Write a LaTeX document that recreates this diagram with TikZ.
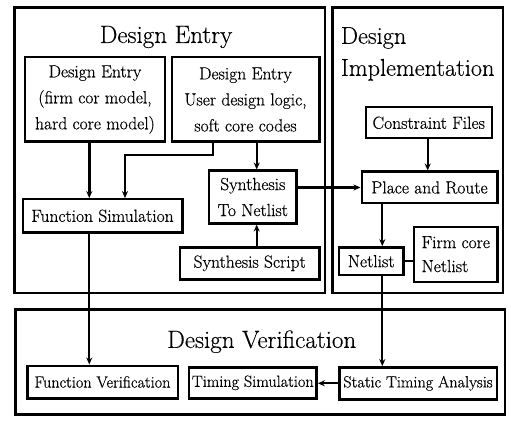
\documentclass[tikz,border=0pt]{standalone}
\usepackage{fontspec}
\newfontfamily\thk{Latin Modern Roman}[FakeBold=0.5]
\newfontfamily\thkt{Latin Modern Roman}[FakeBold=0.3]
\usetikzlibrary{arrows.meta,calc}
\begin{document}
\begin{tikzpicture}[x=1pt,y=-1pt,
  frame/.style={draw,line width=2.6pt,inner sep=0pt},
  box/.style={draw,line width=2.4pt,inner sep=0pt,align=center,font=\thk\fontsize{17.5}{26}\selectfont},
  mbox/.style={box,font=\thk\fontsize{17.5}{24}\selectfont},
  sbox/.style={box,font=\thk\fontsize{16.2}{18}\selectfont},
  title/.style={inner sep=0pt,font=\thkt\fontsize{25}{32}\selectfont},
  arr/.style={line width=2.2pt,-{Stealth[length=7pt,width=6pt]}},
  ln/.style={line width=2.2pt}]
\useasboundingbox (0,0) rectangle (511,422);
% frames
\node[frame,minimum width=310.3pt,minimum height=285.7pt] (fde) at (169.85,150.15) {};
\node[frame,minimum width=170.7pt,minimum height=285.7pt] (fdi) at (417.65,150.15) {};
\node[frame,minimum width=489.3pt,minimum height=105pt] (fdv) at (260.35,361.8) {};
% titles
\node[title] (tde) at (166,37) {Design Entry};
\node[title,align=left,anchor=north west,font=\thkt\fontsize{24.3}{32}\selectfont] (tdi) at (340.7,27) {Design\\Implementation};
\node[title] (tdv) at (261.7,341.7) {Design Verification};
% boxes
\node[box,minimum width=140pt,minimum height=84.4pt] (de1) at (95,99.5) {Design Entry\\(firm cor model,\\hard core model)};
\node[box,minimum width=147.6pt,minimum height=84.4pt] (de2) at (245.5,99.5) {Design Entry\\User design logic,\\soft core codes};
\node[box,minimum width=159.6pt,minimum height=33pt] (fs) at (102.5,215.8) {Function Simulation};
\node[box,minimum width=87.7pt,minimum height=52.6pt] (stn) at (252.8,197) {Synthesis\\To Netlist};
\node[mbox,minimum width=139.3pt,minimum height=32pt] (ss) at (249.7,263.3) {Synthesis Script};
\node[mbox,minimum width=126pt,minimum height=31pt] (cf) at (428.7,122.8) {Constraint Files};
\node[mbox,minimum width=135.6pt,minimum height=31.6pt] (pr) at (429.5,187.5) {Place and Route};
\node[mbox,minimum width=64.3pt,minimum height=27.7pt] (nl) at (371.2,261.2) {Netlist};
\node[mbox,minimum width=83.7pt,minimum height=55pt,align=left] (fcn) at (455.8,254.2) {Firm core\\Netlist};
\node[sbox,minimum width=150.4pt,minimum height=32.6pt] (fv) at (102.5,382) {Function Verification};
\node[sbox,minimum width=127.7pt,minimum height=31pt] (ts) at (252.8,382.8) {Timing Simulation};
\node[sbox,minimum width=157.4pt,minimum height=32pt] (sta) at (418,383.3) {Static Timing Analysis};
% column coordinates
\coordinate (xa) at (89.3,0);
\coordinate (xb) at (213.3,155);
\coordinate (xc) at (125,155);
\coordinate (xd) at (256.7,0);
\coordinate (xe) at (382.3,0);
\coordinate (xf) at (427.7,0);
% connectors
\draw[arr,line width=2.8pt] (de1.south -| xa) -- (fs.north -| xa);
\draw[arr] (de2.south -| xb) -- (xb) -- (xc) -- (fs.north -| xc);
\draw[arr] (de2.south -| xd) -- (stn.north -| xd);
\draw[arr] (ss.north -| xd) -- (stn.south -| xd);
\draw[arr] (stn.east |- pr.west) -- (pr.west);
\draw[arr] (cf.south -| xf) -- (pr.north -| xf);
\draw[arr] (pr.south -| xe) -- (nl.north -| xe);
\draw[ln] (nl.east) -- (fcn.west |- nl.east);
\draw[arr] (nl.south -| xe) -- (sta.north -| xe);
\draw[arr] (fs.south -| xa) -- (fv.north -| xa);
\draw[arr] (sta.west) -- (ts.east |- sta.west);
\end{tikzpicture}
\end{document}
